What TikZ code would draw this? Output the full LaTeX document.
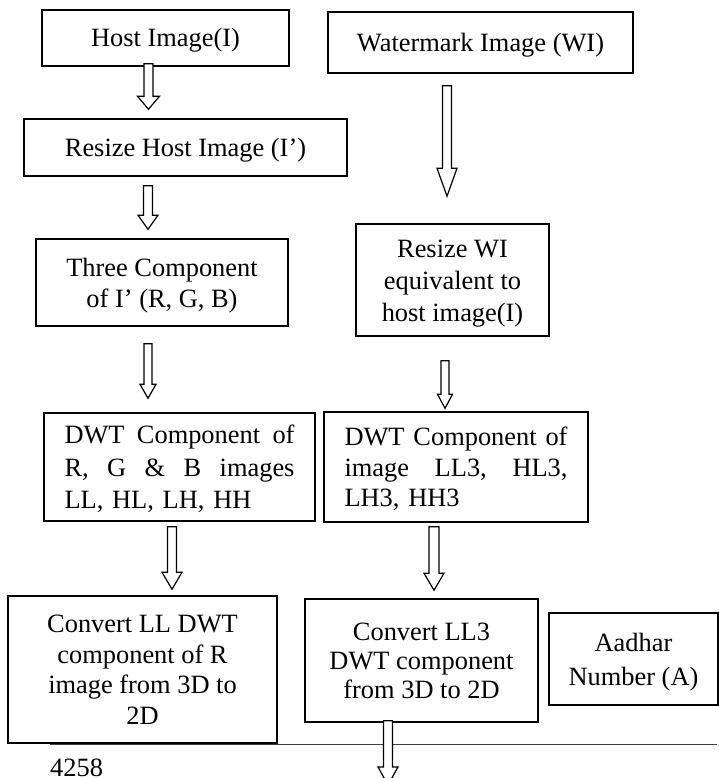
\documentclass[tikz,border=0pt]{standalone}
\usepackage{fontspec}
\setmainfont{Liberation Serif}
\usetikzlibrary{calc}
% #1 from, #2 to, #3 x, #4 start gap, #5 tip gap, #6 shaft half width, #7 head half width, #8 head length
\newcommand\barrow[8]{%
  \path[barr] let \p1=#1, \p2=#2 in
    ({(#3-#6)*1pt},{\y1-(#4)*1pt}) --
    ({(#3-#6)*1pt},{\y2+(#5)*1pt+(#8)*1pt}) --
    ({(#3-#7)*1pt},{\y2+(#5)*1pt+(#8)*1pt}) --
    ({(#3)*1pt},{\y2+(#5)*1pt}) --
    ({(#3+#7)*1pt},{\y2+(#5)*1pt+(#8)*1pt}) --
    ({(#3+#6)*1pt},{\y2+(#5)*1pt+(#8)*1pt}) --
    ({(#3+#6)*1pt},{\y1-(#4)*1pt}) -- cycle;}
\newcommand\Tst{\rule{0pt}{24pt}}
\newcommand\Bst{\rule[-6pt]{0pt}{6pt}}
\begin{document}
\begin{tikzpicture}[x=1pt,y=-1pt,
  box/.style={draw, line width=1.5pt, inner sep=0pt, align=center,
    font=\fontsize{26.4}{31}\selectfont},
  barr/.style={draw, line width=1.2pt, fill=white, line join=miter}]
\useasboundingbox (0,0) rectangle (719,778);
\clip (0,0) rectangle (719,778);

% left column
\node[box, minimum width=247pt, minimum height=56pt] (host) at (165.5,38) {\Tst Host Image(I)\Bst};
\node[box, minimum width=323pt, minimum height=57pt] (rhost) at (185.5,147.5) {\Tst Resize Host Image (I’)\Bst};
\node[box, minimum width=252pt, minimum height=87pt] (three) at (162,282.5)
  {\Tst Three Component\\of I’ (R, G, B)\Bst};
\node[box, minimum width=271pt, minimum height=108pt, align=left, text width=230pt,
  font=\fontsize{26.4}{32.5}\selectfont] (dwtrgb) at (179.5,467)
  {\makebox[230pt]{\Tst DWT\hfill Component\hfill of}\\
   \makebox[230pt]{R,\hfill G\hfill \&\hfill B\hfill images}\\
   LL, HL, LH, HH\Bst};
\node[box, minimum width=269pt, minimum height=147pt,
  font=\fontsize{26.4}{30.5}\selectfont] (conv1) at (142.5,669.5)
  {\Tst Convert LL DWT\\component of R\\image from 3D to\\2D\Bst};

% right column
\node[box, minimum width=305pt, minimum height=61pt] (wm) at (480.5,42.5) {\Tst Watermark Image (WI)\Bst};
\node[box, minimum width=193pt, minimum height=112pt,
  font=\fontsize{26.4}{32}\selectfont] (rwi) at (452.5,280)
  {\Tst Resize WI\\equivalent to\\host image(I)\Bst};
\node[box, minimum width=264pt, minimum height=110pt, align=left, text width=223pt,
  font=\fontsize{26.4}{30.5}\selectfont] (dwtwi) at (456,467)
  {\makebox[223pt]{\Tst DWT\hfill Component\hfill of}\\
   \makebox[223pt]{image\hfill LL3,\hfill HL3,}\\
   LH3, HH3\Bst};
\node[box, minimum width=233pt, minimum height=123pt,
  font=\fontsize{26.4}{29}\selectfont] (conv2) at (421.5,660.5)
  {\Tst Convert LL3\\DWT component\\from 3D to 2D\Bst};
\node[box, minimum width=169pt, minimum height=92pt,
  font=\fontsize{26.4}{34}\selectfont] (aadhar) at (633.5,659)
  {\Tst Aadhar\\Number (A)\Bst};

% footer rule and page number
\coordinate (ruleL) at (50,744);
\coordinate (ruleR) at (717,744);
\draw[line width=0.9pt, black!75] (ruleL) -- (ruleR);
\node[anchor=base west, inner sep=0pt, font=\fontsize{26.4}{31}\selectfont] (page) at (50,776.5) {4258};
\coordinate (out) at (388,785);

% block arrows
\barrow{(host.south)}{(rhost.north)}{148.5}{-3}{9}{4.5}{11}{13}
\barrow{(rhost.south)}{(three.north)}{148}{9}{9}{4.5}{10}{14}
\barrow{(three.south)}{(dwtrgb.north)}{148}{17}{14}{4}{8}{14}
\barrow{(dwtrgb.south)}{(conv1.north)}{172}{5}{6}{4.5}{10}{17}
\barrow{(wm.south)}{(rwi.north)}{447}{12}{27}{4.5}{10}{28}
\barrow{(rwi.south)}{(dwtwi.north)}{445}{24}{3}{4}{7.5}{14}
\barrow{(dwtwi.south)}{(conv2.north)}{434}{4}{8}{5}{10}{17}
\barrow{(conv2.south)}{(out)}{388}{-2}{0}{4.5}{10}{18}
\end{tikzpicture}
\end{document}
